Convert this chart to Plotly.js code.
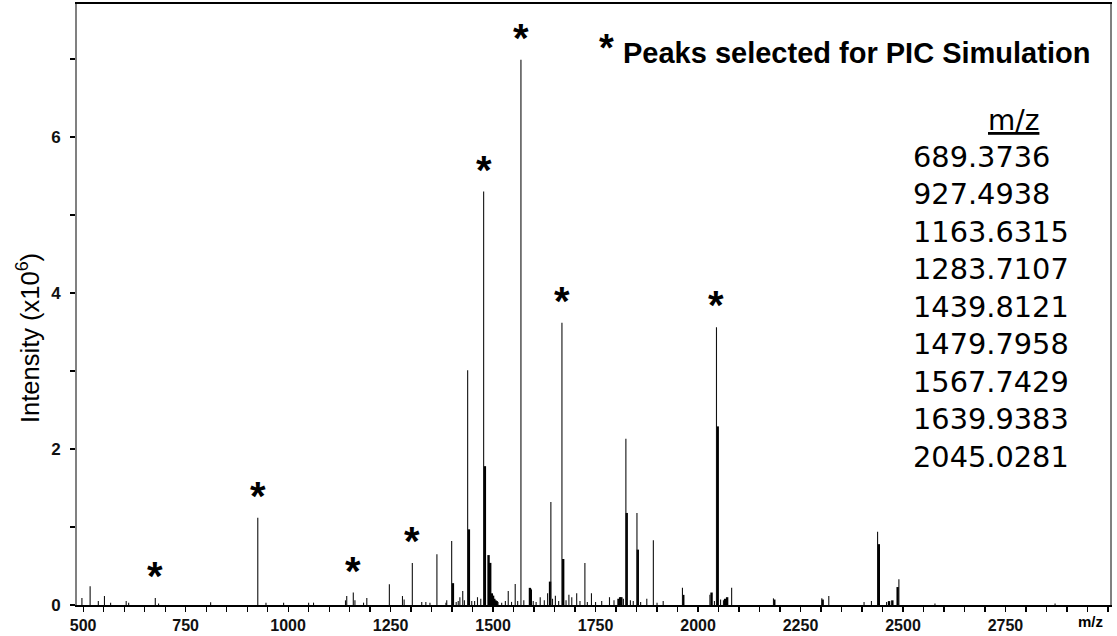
<!DOCTYPE html>
<html>
<head>
<meta charset="utf-8">
<script src="https://cdn.plot.ly/plotly-3.0.1.min.js"></script>
<style>html,body{margin:0;padding:0;background:#fff;}#chart{width:1117px;height:636px;}</style>
</head>
<body>
<div id="chart"></div>
<script>
// Thin (monoisotopic / single) peaks: m/z and intensity (x10^6)
const thinMz = [497,517,537,552,567,605,611,676,684,811,926,946,989,1050,1062,1140,1143,1159,1163,1184,1192,1247,1279,1283,1303,1326,1336,1346,1363,1385,1387,1399,1410,1415,1419,1426,1430,1438,1448,1455,1462,1470,1477,1512,1521,1530,1537,1545,1554,1560,1568,1575,1598,1605,1615,1625,1633,1641,1645,1652,1660,1668,1678,1685,1692,1704,1712,1724,1730,1740,1750,1765,1784,1795,1818,1824,1835,1842,1851,1860,1875,1891,1900,1915,1962,2029,2040,2045,2055,2062,2082,2184,2302,2319,2405,2423,2438,2460,2490,2578,2871];
const thinInt = [0.09,0.24,0.05,0.115,0.03,0.05,0.03,0.09,0.02,0.035,1.12,0.03,0.03,0.03,0.03,0.06,0.115,0.16,0.06,0.03,0.09,0.265,0.115,0.07,0.54,0.04,0.04,0.03,0.65,0.03,0.06,0.82,0.04,0.05,0.1,0.18,0.06,3.01,0.05,0.05,0.1,0.08,5.30,0.04,0.03,0.05,0.18,0.04,0.27,0.05,6.99,0.06,0.05,0.04,0.1,0.06,0.15,1.32,0.08,0.12,0.05,3.62,0.06,0.13,0.1,0.15,0.05,0.54,0.04,0.15,0.04,0.05,0.1,0.06,0.08,2.13,0.06,0.05,1.18,0.04,0.08,0.83,0.03,0.05,0.22,0.13,0.05,3.56,0.07,0.06,0.22,0.085,0.085,0.115,0.04,0.05,0.94,0.04,0.33,0.02,0.02];
// Bold (isotope-cluster) peaks
const boldMz = [1402,1441,1480,1489,1493,1497,1500,1503,1506,1509,1590,1592,1639,1671,1806,1810,1813,1826,1853,1964,2033,2048,2066,2071,2186,2304,2441,2466,2474,2487];
const boldInt = [0.28,0.97,1.78,0.64,0.54,0.15,0.12,0.08,0.06,0.05,0.22,0.2,0.3,0.59,0.08,0.1,0.1,1.18,0.71,0.13,0.16,2.29,0.08,0.1,0.07,0.07,0.78,0.05,0.06,0.23];
// Peaks marked with * (as located on the spectrum)
const starredMz = [676,926,1159,1303,1477,1568,1668,2045];
// Table of selected peaks
const tableHeader = "m/z";
const selectedLabels = ["689.3736","927.4938","1163.6315","1283.7107","1439.8121","1479.7958","1567.7429","1639.9383","2045.0281"];
const legendText = "Peaks selected for PIC Simulation";
const yTitle = "Intensity (x10<sup>6</sup>)";
const xUnit = "m/z";
const xTickVals = [500,750,1000,1250,1500,1750,2000,2250,2500,2750];
const yTickVals = [0,2,4,6];

function stems(xs, ys) {
  const X = [], Y = [];
  xs.forEach((x, i) => { X.push(x, x, null); Y.push(0, ys[i], null); });
  return {X, Y};
}
const t = stems(thinMz, thinInt);
const b = stems(boldMz, boldInt);

const traces = [
  {x: b.X, y: b.Y, type: 'scatter', mode: 'lines', line: {color: '#000', width: 2.4}, hoverinfo: 'skip', showlegend: false},
  {x: t.X, y: t.Y, type: 'scatter', mode: 'lines', line: {color: '#111', width: 1.1}, hoverinfo: 'skip', showlegend: false}
];

const T = 4, B = 605, L = 77, R = 1110;
const py = p => 1 - (p - T) / (B - T);
const px = p => (p - L) / (R - L);
const SANS = 'Liberation Sans, Arial, sans-serif';
const VERD = 'DejaVu Sans, Verdana, sans-serif';

const annotations = [];
starredMz.forEach(m => {
  const i = thinMz.indexOf(m);
  annotations.push({x: m, y: thinInt[i], xref: 'x', yref: 'y', text: '<b>*</b>', showarrow: false,
    yanchor: 'bottom', xanchor: 'center', yshift: -2,
    font: {family: SANS, size: 40, color: '#000'}});
});
annotations.push({xref: 'paper', yref: 'paper', x: px(606), y: py(48), text: '<b>*</b>', showarrow: false,
  xanchor: 'center', yanchor: 'middle', font: {family: SANS, size: 38, color: '#000'}});
annotations.push({xref: 'paper', yref: 'paper', x: px(621), y: py(53), text: '<b>' + legendText + '</b>', showarrow: false,
  xanchor: 'left', yanchor: 'middle', font: {family: SANS, size: 29, color: '#000'}});
annotations.push({xref: 'paper', yref: 'paper', x: px(1013), y: py(120), text: '<u>' + tableHeader + '</u>', showarrow: false,
  xanchor: 'center', yanchor: 'middle', font: {family: VERD, size: 28, color: '#000'}});
annotations.push({xref: 'paper', yref: 'paper', x: px(911), y: py(138), text: selectedLabels.join('<br>'), showarrow: false,
  xanchor: 'left', yanchor: 'top', align: 'left', font: {family: VERD, size: 28.8, color: '#000'}});
annotations.push({xref: 'paper', yref: 'paper', x: px(28), y: py(338), text: yTitle, showarrow: false, textangle: -90,
  xanchor: 'center', yanchor: 'middle', font: {family: SANS, size: 25.5, color: '#000'}});
annotations.push({xref: 'paper', yref: 'paper', x: px(1090), y: py(621), text: '<b>' + xUnit + '</b>', showarrow: false,
  xanchor: 'center', yanchor: 'middle', font: {family: SANS, size: 15, color: '#000'}});

const layout = {
  width: 1117, height: 636,
  margin: {l: L, r: 1117 - R, t: T, b: 636 - B, pad: 0},
  paper_bgcolor: '#fff', plot_bgcolor: '#fff',
  showlegend: false,
  xaxis: {
    range: [485, 3005], showgrid: false, zeroline: false,
    showline: true, linecolor: '#000', linewidth: 2, mirror: true,
    tickmode: 'array', tickvals: xTickVals, ticktext: xTickVals.map(String),
    ticks: 'outside', ticklen: 5, tickwidth: 1.2, tickcolor: '#000',
    minor: {dtick: 50, tick0: 0, ticks: 'outside', ticklen: 5, tickwidth: 1.2, tickcolor: '#000', showgrid: false},
    tickfont: {family: SANS, size: 16, color: '#111', weight: 'bold'},
    fixedrange: true
  },
  yaxis: {
    range: [0, 7.705], showgrid: false, zeroline: false,
    showline: true, linecolor: '#808080', linewidth: 2, mirror: true,
    tickmode: 'array', tickvals: yTickVals, ticktext: yTickVals.map(String),
    ticks: 'outside', ticklen: 5, tickwidth: 1.2, tickcolor: '#000',
    minor: {dtick: 1, tick0: 0, ticks: 'outside', ticklen: 5, tickwidth: 1.2, tickcolor: '#000', showgrid: false},
    tickfont: {family: SANS, size: 17, color: '#111', weight: 'bold'},
    ticklabelstandoff: 6,
    fixedrange: true
  },
  annotations: annotations
};

Plotly.newPlot('chart', traces, layout, {displayModeBar: false, staticPlot: true});
</script>
</body>
</html>
